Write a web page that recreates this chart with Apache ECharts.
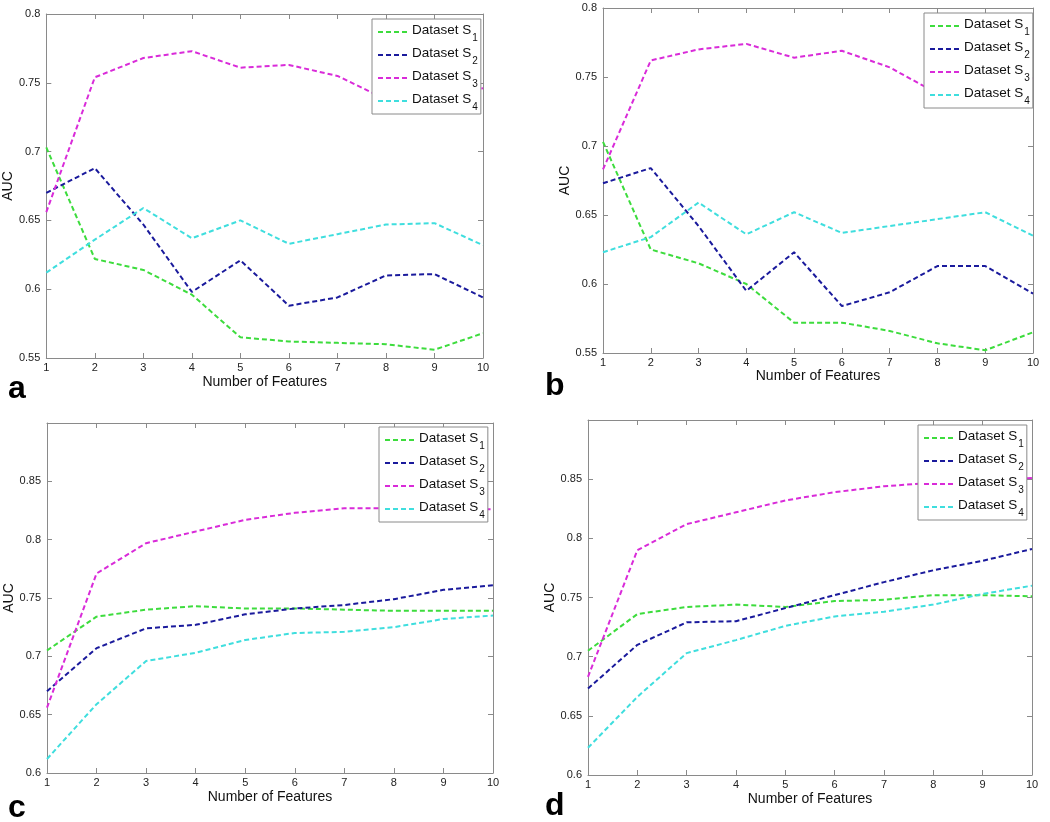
<!DOCTYPE html>
<html lang="en">
  <head>
    <meta charset="UTF-8" />
    <title>AUC vs Number of Features</title>
    <script src="https://cdn.jsdelivr.net/npm/echarts@6/dist/echarts.min.js"></script>
    <style>
      html, body { margin: 0; padding: 0; background: #fff; }
      #chart { width: 1050px; height: 822px; }
    </style>
  </head>
  <body>
    <div id="chart"></div>
    <script>
      // x values shared by all panels
      const features = [1, 2, 3, 4, 5, 6, 7, 8, 9, 10];
      const seriesNames = ["S1", "S2", "S3", "S4"];

      // panel a
      const aS1 = [0.703, 0.622, 0.614, 0.596, 0.565, 0.562, 0.561, 0.560, 0.556, 0.568];
      const aS2 = [0.670, 0.688, 0.647, 0.598, 0.621, 0.588, 0.594, 0.610, 0.611, 0.594];
      const aS3 = [0.656, 0.754, 0.768, 0.773, 0.761, 0.763, 0.755, 0.738, 0.742, 0.746];
      const aS4 = [0.612, 0.636, 0.659, 0.637, 0.650, 0.633, 0.640, 0.647, 0.648, 0.632];

      // panel b
      const bS1 = [0.703, 0.625, 0.615, 0.600, 0.572, 0.572, 0.566, 0.557, 0.552, 0.565];
      const bS2 = [0.673, 0.684, 0.642, 0.595, 0.623, 0.584, 0.594, 0.613, 0.613, 0.593];
      const bS3 = [0.683, 0.762, 0.770, 0.774, 0.764, 0.769, 0.757, 0.738, 0.742, 0.749];
      const bS4 = [0.623, 0.634, 0.659, 0.636, 0.652, 0.637, 0.642, 0.647, 0.652, 0.635];

      // panel c
      const cS1 = [0.705, 0.734, 0.740, 0.743, 0.741, 0.741, 0.740, 0.739, 0.739, 0.739];
      const cS2 = [0.670, 0.707, 0.724, 0.727, 0.736, 0.741, 0.744, 0.749, 0.757, 0.761];
      const cS3 = [0.656, 0.771, 0.797, 0.807, 0.817, 0.823, 0.827, 0.827, 0.827, 0.826];
      const cS4 = [0.612, 0.659, 0.696, 0.703, 0.714, 0.720, 0.721, 0.725, 0.732, 0.735];

      // panel d
      const dS1 = [0.705, 0.736, 0.742, 0.744, 0.742, 0.747, 0.748, 0.752, 0.752, 0.751];
      const dS2 = [0.673, 0.710, 0.729, 0.730, 0.741, 0.752, 0.763, 0.773, 0.781, 0.791];
      const dS3 = [0.683, 0.790, 0.812, 0.822, 0.832, 0.839, 0.844, 0.847, 0.849, 0.851];
      const dS4 = [0.623, 0.666, 0.703, 0.714, 0.726, 0.734, 0.738, 0.744, 0.753, 0.760];

      const colors = ["#3ddc3d", "#1a1a9c", "#d92bd9", "#3fdede"];

      // [left, top, width, height], y range, legend box, letter position, axis name gaps
      const panels = [
        { key: "a", data: [aS1, aS2, aS3, aS4], box: [46, 14, 437, 344], yMin: 0.55, yMax: 0.8,
          legend: [372, 19], letter: [8, 373], xGap: 17, yGap: 27 },
        { key: "b", data: [bS1, bS2, bS3, bS4], box: [603, 8, 430, 345], yMin: 0.55, yMax: 0.8,
          legend: [924, 13], letter: [545, 370], xGap: 16, yGap: 26 },
        { key: "c", data: [cS1, cS2, cS3, cS4], box: [47, 423, 446, 350], yMin: 0.6, yMax: 0.9,
          legend: [379, 427], letter: [8, 792], xGap: 17, yGap: 28 },
        { key: "d", data: [dS1, dS2, dS3, dS4], box: [588, 420, 444, 355], yMin: 0.6, yMax: 0.9,
          legend: [918, 425], letter: [545, 790], xGap: 17, yGap: 28 }
      ];

      const axisColor = "#8a8a8a";
      const labelStyle = { color: "#222", fontSize: 11, fontFamily: "Liberation Sans" };
      const nameStyle = { color: "#111", fontSize: 14, fontFamily: "Liberation Sans" };

      let grid = [], xAxis = [], yAxis = [], series = [], legend = [], graphic = [];

      panels.forEach(function (p, i) {
        grid.push({ left: p.box[0], top: p.box[1], width: p.box[2], height: p.box[3] });

        const tick = { show: true, inside: true, length: 5, lineStyle: { color: axisColor } };
        const line = { show: true, onZero: false, lineStyle: { color: axisColor, width: 1 } };

        // bottom + top x axes
        xAxis.push({
          type: "value", gridIndex: i, min: 1, max: 10, interval: 1, position: "bottom",
          axisLine: line, axisTick: tick, splitLine: { show: false },
          axisLabel: Object.assign({ margin: 4 }, labelStyle),
          name: "Number of Features", nameLocation: "middle", nameGap: p.xGap, nameTextStyle: nameStyle
        });
        xAxis.push({
          type: "value", gridIndex: i, min: 1, max: 10, interval: 1, position: "top",
          axisLine: line, axisTick: tick, splitLine: { show: false }, axisLabel: { show: false }
        });

        // left + right y axes
        yAxis.push({
          type: "value", gridIndex: i, min: p.yMin, max: p.yMax, interval: 0.05, position: "left",
          axisLine: line, axisTick: tick, splitLine: { show: false },
          axisLabel: Object.assign({
            margin: 6,
            formatter: function (v) { return v > 0.875 ? "" : String(+v.toFixed(2)); }
          }, labelStyle),
          name: "AUC", nameLocation: "middle", nameRotate: 90, nameGap: p.yGap, nameTextStyle: nameStyle
        });
        yAxis.push({
          type: "value", gridIndex: i, min: p.yMin, max: p.yMax, interval: 0.05, position: "right",
          axisLine: line, axisTick: tick, splitLine: { show: false }, axisLabel: { show: false }
        });

        const names = [];
        p.data.forEach(function (vals, k) {
          const name = p.key + "_" + seriesNames[k];
          names.push(name);
          series.push({
            name: name, type: "line", xAxisIndex: i * 2, yAxisIndex: i * 2,
            data: features.map(function (f, j) { return [f, vals[j]]; }),
            symbol: "none", silent: true, animation: false,
            lineStyle: { color: colors[k], width: 2, type: [5, 3] },
            itemStyle: { color: colors[k] }
          });
        });

        legend.push({
          data: names, orient: "vertical", left: p.legend[0], top: p.legend[1],
          backgroundColor: "#fff", borderColor: "#8a8a8a", borderWidth: 1,
          padding: [4, 3, 2, 5], itemGap: 3, itemWidth: 29, itemHeight: 16,
          itemStyle: { opacity: 0 }, selectedMode: false, z: 10,
          formatter: function (n) { return "{t|Dataset S}{s|" + n.slice(-1) + "}"; },
          textStyle: {
            color: "#111", fontFamily: "Liberation Sans",
            rich: {
              t: { fontSize: 13.5, lineHeight: 18, verticalAlign: "top" },
              s: { fontSize: 10, lineHeight: 10, padding: [10, 0, 0, 1], verticalAlign: "top" }
            }
          }
        });

        graphic.push({
          type: "text", left: p.letter[0], top: p.letter[1],
          style: { text: p.key, font: "bold 32px Liberation Sans", fill: "#000" }
        });
      });

      const chart = echarts.init(document.getElementById("chart"), null, { renderer: "canvas" });
      chart.setOption({
        backgroundColor: "#fff",
        animation: false,
        grid: grid,
        xAxis: xAxis,
        yAxis: yAxis,
        legend: legend,
        series: series,
        graphic: graphic
      });
    </script>
  </body>
</html>
